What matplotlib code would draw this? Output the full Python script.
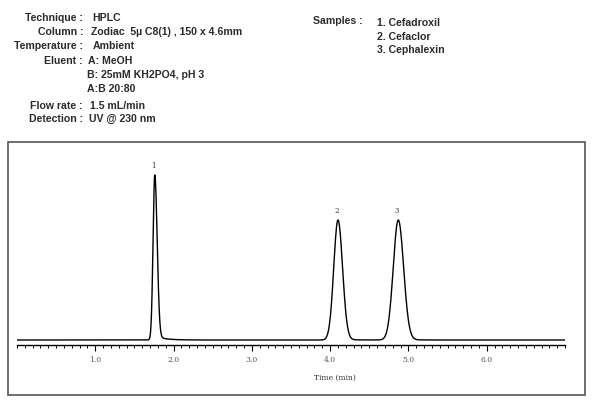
import numpy as np
import matplotlib.pyplot as plt
from matplotlib.patches import Rectangle
from matplotlib.ticker import MultipleLocator

# Method conditions (header block)
cond_labels = ["Technique :", "Column :", "Temperature :", "Eluent :", "", "", "Flow rate :", "Detection :"]
cond_values = ["HPLC", "Zodiac  5\u00b5 C8(1) , 150 x 4.6mm", "Ambient", "A: MeOH",
               "B: 25mM KH2PO4, pH 3", "A:B 20:80", "1.5 mL/min", "UV @ 230 nm"]
cond_y = [18, 32, 46, 61, 75, 89, 106, 119]
cond_x = [92, 91, 93, 88, 87, 87, 90, 89]

samples = ["1. Cefadroxil", "2. Cefaclor", "3. Cephalexin"]

# Peaks: retention time (min), height, left/right width (min)
peak_ids = ["1", "2", "3"]
peak_rt = [1.76, 4.10, 4.87]
peak_height = [165, 120, 120]
peak_sig_left = [0.022, 0.054, 0.064]
peak_sig_right = [0.030, 0.058, 0.068]
peak_tail = [4, 1, 1]

t = np.linspace(0, 7, 3000)
signal = np.zeros_like(t)
for rt, h, sl, sr, tl in zip(peak_rt, peak_height, peak_sig_left, peak_sig_right, peak_tail):
    sig = np.where(t < rt, sl, sr)
    signal += h * np.exp(-0.5 * ((t - rt) / sig) ** 2)
    # small tail after the peak
    signal += np.where(t > rt, tl * np.exp(-(t - rt) / 0.12) * (1 - np.exp(-((t - rt) / 0.03) ** 2)), 0)

W, H = 600, 400
fig = plt.figure(figsize=(6, 4), dpi=100)
fig.patch.set_facecolor("white")

hdr = dict(family="Liberation Sans", fontsize=7.6, color="#2b2b2b", weight="bold", va="center")
for lab, val, y, x in zip(cond_labels, cond_values, cond_y, cond_x):
    if lab:
        fig.text(83 / W, 1 - y / H, lab, ha="right", **hdr)
    fig.text(x / W, 1 - y / H, val, ha="left", **hdr)

fig.text(313 / W, 1 - 21 / H, "Samples :", ha="left", **hdr)
for i, s in enumerate(samples):
    fig.text(377 / W, 1 - (23 + 13.5 * i) / H, s, ha="left", **hdr)

# outer frame
fig.patches.append(Rectangle((8 / W, 1 - 395 / H), 577 / W, 253 / H, transform=fig.transFigure,
                             fill=False, edgecolor="#555555", linewidth=1.2))

# chromatogram axes: x from 0 to 7 min between px 17 and 565, bottom at y=345
ax = fig.add_axes([17 / W, 1 - 345 / H, 548 / W, 195 / H])
ax.plot(t, signal, color="black", linewidth=1.0)
ax.set_xlim(0, 7)
ax.set_ylim(-5, 190)
for side in ["top", "right", "left"]:
    ax.spines[side].set_visible(False)
ax.spines["bottom"].set_linewidth(1.0)
ax.set_yticks([])
ax.xaxis.set_major_locator(MultipleLocator(1.0))
ax.xaxis.set_minor_locator(MultipleLocator(0.1))
ax.set_xticks([1, 2, 3, 4, 5, 6])
ax.set_xticklabels(["1.0", "2.0", "3.0", "4.0", "5.0", "6.0"], family="DejaVu Serif", fontsize=5.5, color="#555555")
ax.tick_params(axis="x", which="major", length=4, width=0.8, pad=4)
ax.tick_params(axis="x", which="minor", length=2.5, width=0.7)
ax.patch.set_alpha(0)

for pid, rt, h in zip(peak_ids, peak_rt, peak_height):
    ax.text(rt - 0.02, h + 5, pid, ha="center", va="bottom", family="DejaVu Serif", fontsize=5, color="#333333")

fig.text(335 / W, 1 - 378 / H, "Time (min)", ha="center", va="center", family="DejaVu Serif",
         fontsize=5.5, color="#333333")

fig.savefig("out.png", dpi=100)
